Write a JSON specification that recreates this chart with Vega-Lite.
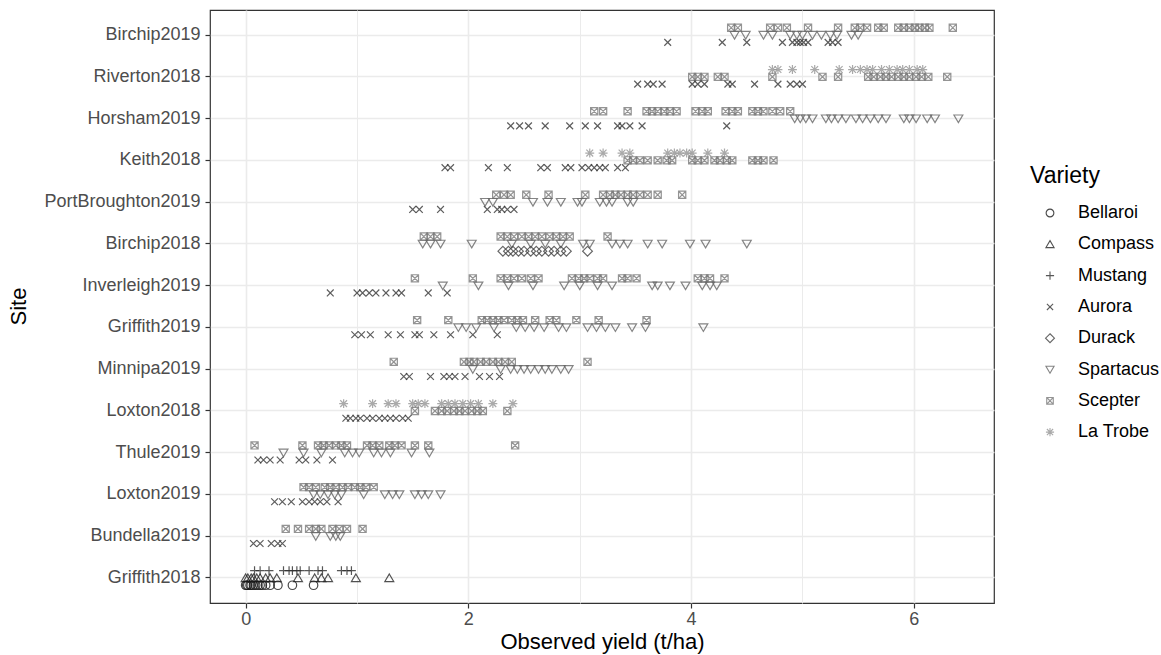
{
"$schema": "https://vega.github.io/schema/vega-lite/v6.json",
"width": 784, "height": 593,
"autosize": {"type": "none"},
"padding": {"left": 210, "top": 10, "right": 167, "bottom": 52},
"background": "white",
"config": {
  "font": "Liberation Sans",
  "view": {"stroke": "#333333", "strokeWidth": 1.2},
  "axis": {"labelFont": "Liberation Sans", "titleFont": "Liberation Sans", "labelColor": "#4D4D4D", "labelFontSize": 18, "titleFontSize": 22, "titleFontWeight": "normal", "titleColor": "#000000", "tickColor": "#333333", "tickSize": 5, "tickWidth": 1.2, "domain": false, "grid": true, "gridColor": "#EBEBEB", "gridWidth": 1.5},
  "legend": {"labelFont": "Liberation Sans", "titleFont": "Liberation Sans", "labelFontSize": 18, "titleFontSize": 23, "titleFontWeight": "normal", "labelColor": "#000000", "titleColor": "#000000"}
},
"data": {"values": [
{"Site":"Birchip2019","Variety":"Scepter","Yield":4.36},{"Site":"Birchip2019","Variety":"Scepter","Yield":4.42},{"Site":"Birchip2019","Variety":"Scepter","Yield":4.71},{"Site":"Birchip2019","Variety":"Scepter","Yield":4.78},{"Site":"Birchip2019","Variety":"Scepter","Yield":4.86},{"Site":"Birchip2019","Variety":"Scepter","Yield":5.05},{"Site":"Birchip2019","Variety":"Scepter","Yield":5.32},{"Site":"Birchip2019","Variety":"Scepter","Yield":5.47},{"Site":"Birchip2019","Variety":"Scepter","Yield":5.52},{"Site":"Birchip2019","Variety":"Scepter","Yield":5.58},{"Site":"Birchip2019","Variety":"Scepter","Yield":5.68},{"Site":"Birchip2019","Variety":"Scepter","Yield":5.73},{"Site":"Birchip2019","Variety":"Scepter","Yield":5.86},{"Site":"Birchip2019","Variety":"Scepter","Yield":5.91},{"Site":"Birchip2019","Variety":"Scepter","Yield":5.96},{"Site":"Birchip2019","Variety":"Scepter","Yield":6.01},{"Site":"Birchip2019","Variety":"Scepter","Yield":6.05},{"Site":"Birchip2019","Variety":"Scepter","Yield":6.10},{"Site":"Birchip2019","Variety":"Scepter","Yield":6.14},{"Site":"Birchip2019","Variety":"Scepter","Yield":6.35},
{"Site":"Birchip2019","Variety":"Spartacus","Yield":4.39},{"Site":"Birchip2019","Variety":"Spartacus","Yield":4.49},{"Site":"Birchip2019","Variety":"Spartacus","Yield":4.65},{"Site":"Birchip2019","Variety":"Spartacus","Yield":4.73},{"Site":"Birchip2019","Variety":"Spartacus","Yield":4.89},{"Site":"Birchip2019","Variety":"Spartacus","Yield":4.95},{"Site":"Birchip2019","Variety":"Spartacus","Yield":5.00},{"Site":"Birchip2019","Variety":"Spartacus","Yield":5.09},{"Site":"Birchip2019","Variety":"Spartacus","Yield":5.17},{"Site":"Birchip2019","Variety":"Spartacus","Yield":5.25},{"Site":"Birchip2019","Variety":"Spartacus","Yield":5.31},{"Site":"Birchip2019","Variety":"Spartacus","Yield":5.44},{"Site":"Birchip2019","Variety":"Spartacus","Yield":5.50},
{"Site":"Birchip2019","Variety":"Aurora","Yield":3.79},{"Site":"Birchip2019","Variety":"Aurora","Yield":4.28},{"Site":"Birchip2019","Variety":"Aurora","Yield":4.50},{"Site":"Birchip2019","Variety":"Aurora","Yield":4.82},{"Site":"Birchip2019","Variety":"Aurora","Yield":4.91},{"Site":"Birchip2019","Variety":"Aurora","Yield":4.95},{"Site":"Birchip2019","Variety":"Aurora","Yield":4.98},{"Site":"Birchip2019","Variety":"Aurora","Yield":5.01},{"Site":"Birchip2019","Variety":"Aurora","Yield":5.05},{"Site":"Birchip2019","Variety":"Aurora","Yield":5.23},{"Site":"Birchip2019","Variety":"Aurora","Yield":5.27},{"Site":"Birchip2019","Variety":"Aurora","Yield":5.32},
{"Site":"Riverton2018","Variety":"La Trobe","Yield":4.73},{"Site":"Riverton2018","Variety":"La Trobe","Yield":4.78},{"Site":"Riverton2018","Variety":"La Trobe","Yield":4.91},{"Site":"Riverton2018","Variety":"La Trobe","Yield":5.11},{"Site":"Riverton2018","Variety":"La Trobe","Yield":5.33},{"Site":"Riverton2018","Variety":"La Trobe","Yield":5.45},{"Site":"Riverton2018","Variety":"La Trobe","Yield":5.52},{"Site":"Riverton2018","Variety":"La Trobe","Yield":5.58},{"Site":"Riverton2018","Variety":"La Trobe","Yield":5.63},{"Site":"Riverton2018","Variety":"La Trobe","Yield":5.71},{"Site":"Riverton2018","Variety":"La Trobe","Yield":5.78},{"Site":"Riverton2018","Variety":"La Trobe","Yield":5.85},{"Site":"Riverton2018","Variety":"La Trobe","Yield":5.90},{"Site":"Riverton2018","Variety":"La Trobe","Yield":5.96},{"Site":"Riverton2018","Variety":"La Trobe","Yield":6.03},{"Site":"Riverton2018","Variety":"La Trobe","Yield":6.08},
{"Site":"Riverton2018","Variety":"Scepter","Yield":4.01},{"Site":"Riverton2018","Variety":"Scepter","Yield":4.06},{"Site":"Riverton2018","Variety":"Scepter","Yield":4.12},{"Site":"Riverton2018","Variety":"Scepter","Yield":4.24},{"Site":"Riverton2018","Variety":"Scepter","Yield":4.30},{"Site":"Riverton2018","Variety":"Scepter","Yield":4.73},{"Site":"Riverton2018","Variety":"Scepter","Yield":5.18},{"Site":"Riverton2018","Variety":"Scepter","Yield":5.32},{"Site":"Riverton2018","Variety":"Scepter","Yield":5.59},{"Site":"Riverton2018","Variety":"Scepter","Yield":5.64},{"Site":"Riverton2018","Variety":"Scepter","Yield":5.70},{"Site":"Riverton2018","Variety":"Scepter","Yield":5.75},{"Site":"Riverton2018","Variety":"Scepter","Yield":5.80},{"Site":"Riverton2018","Variety":"Scepter","Yield":5.86},{"Site":"Riverton2018","Variety":"Scepter","Yield":5.91},{"Site":"Riverton2018","Variety":"Scepter","Yield":5.96},{"Site":"Riverton2018","Variety":"Scepter","Yield":6.02},{"Site":"Riverton2018","Variety":"Scepter","Yield":6.07},{"Site":"Riverton2018","Variety":"Scepter","Yield":6.13},{"Site":"Riverton2018","Variety":"Scepter","Yield":6.30},
{"Site":"Riverton2018","Variety":"Aurora","Yield":3.52},{"Site":"Riverton2018","Variety":"Aurora","Yield":3.61},{"Site":"Riverton2018","Variety":"Aurora","Yield":3.66},{"Site":"Riverton2018","Variety":"Aurora","Yield":3.74},{"Site":"Riverton2018","Variety":"Aurora","Yield":4.01},{"Site":"Riverton2018","Variety":"Aurora","Yield":4.06},{"Site":"Riverton2018","Variety":"Aurora","Yield":4.12},{"Site":"Riverton2018","Variety":"Aurora","Yield":4.33},{"Site":"Riverton2018","Variety":"Aurora","Yield":4.37},{"Site":"Riverton2018","Variety":"Aurora","Yield":4.57},{"Site":"Riverton2018","Variety":"Aurora","Yield":4.78},{"Site":"Riverton2018","Variety":"Aurora","Yield":4.89},{"Site":"Riverton2018","Variety":"Aurora","Yield":4.95},{"Site":"Riverton2018","Variety":"Aurora","Yield":5.00},
{"Site":"Horsham2019","Variety":"Scepter","Yield":3.13},{"Site":"Horsham2019","Variety":"Scepter","Yield":3.21},{"Site":"Horsham2019","Variety":"Scepter","Yield":3.43},{"Site":"Horsham2019","Variety":"Scepter","Yield":3.60},{"Site":"Horsham2019","Variety":"Scepter","Yield":3.65},{"Site":"Horsham2019","Variety":"Scepter","Yield":3.70},{"Site":"Horsham2019","Variety":"Scepter","Yield":3.76},{"Site":"Horsham2019","Variety":"Scepter","Yield":3.81},{"Site":"Horsham2019","Variety":"Scepter","Yield":3.87},{"Site":"Horsham2019","Variety":"Scepter","Yield":4.04},{"Site":"Horsham2019","Variety":"Scepter","Yield":4.10},{"Site":"Horsham2019","Variety":"Scepter","Yield":4.15},{"Site":"Horsham2019","Variety":"Scepter","Yield":4.31},{"Site":"Horsham2019","Variety":"Scepter","Yield":4.37},{"Site":"Horsham2019","Variety":"Scepter","Yield":4.42},{"Site":"Horsham2019","Variety":"Scepter","Yield":4.55},{"Site":"Horsham2019","Variety":"Scepter","Yield":4.60},{"Site":"Horsham2019","Variety":"Scepter","Yield":4.65},{"Site":"Horsham2019","Variety":"Scepter","Yield":4.73},{"Site":"Horsham2019","Variety":"Scepter","Yield":4.80},{"Site":"Horsham2019","Variety":"Scepter","Yield":4.89},
{"Site":"Horsham2019","Variety":"Spartacus","Yield":4.93},{"Site":"Horsham2019","Variety":"Spartacus","Yield":4.98},{"Site":"Horsham2019","Variety":"Spartacus","Yield":5.03},{"Site":"Horsham2019","Variety":"Spartacus","Yield":5.09},{"Site":"Horsham2019","Variety":"Spartacus","Yield":5.21},{"Site":"Horsham2019","Variety":"Spartacus","Yield":5.26},{"Site":"Horsham2019","Variety":"Spartacus","Yield":5.32},{"Site":"Horsham2019","Variety":"Spartacus","Yield":5.39},{"Site":"Horsham2019","Variety":"Spartacus","Yield":5.48},{"Site":"Horsham2019","Variety":"Spartacus","Yield":5.54},{"Site":"Horsham2019","Variety":"Spartacus","Yield":5.61},{"Site":"Horsham2019","Variety":"Spartacus","Yield":5.68},{"Site":"Horsham2019","Variety":"Spartacus","Yield":5.75},{"Site":"Horsham2019","Variety":"Spartacus","Yield":5.91},{"Site":"Horsham2019","Variety":"Spartacus","Yield":5.96},{"Site":"Horsham2019","Variety":"Spartacus","Yield":6.02},{"Site":"Horsham2019","Variety":"Spartacus","Yield":6.12},{"Site":"Horsham2019","Variety":"Spartacus","Yield":6.19},{"Site":"Horsham2019","Variety":"Spartacus","Yield":6.40},
{"Site":"Horsham2019","Variety":"Aurora","Yield":2.38},{"Site":"Horsham2019","Variety":"Aurora","Yield":2.46},{"Site":"Horsham2019","Variety":"Aurora","Yield":2.54},{"Site":"Horsham2019","Variety":"Aurora","Yield":2.69},{"Site":"Horsham2019","Variety":"Aurora","Yield":2.91},{"Site":"Horsham2019","Variety":"Aurora","Yield":3.05},{"Site":"Horsham2019","Variety":"Aurora","Yield":3.16},{"Site":"Horsham2019","Variety":"Aurora","Yield":3.34},{"Site":"Horsham2019","Variety":"Aurora","Yield":3.38},{"Site":"Horsham2019","Variety":"Aurora","Yield":3.45},{"Site":"Horsham2019","Variety":"Aurora","Yield":3.56},{"Site":"Horsham2019","Variety":"Aurora","Yield":4.32},
{"Site":"Keith2018","Variety":"La Trobe","Yield":3.09},{"Site":"Keith2018","Variety":"La Trobe","Yield":3.21},{"Site":"Keith2018","Variety":"La Trobe","Yield":3.38},{"Site":"Keith2018","Variety":"La Trobe","Yield":3.45},{"Site":"Keith2018","Variety":"La Trobe","Yield":3.79},{"Site":"Keith2018","Variety":"La Trobe","Yield":3.85},{"Site":"Keith2018","Variety":"La Trobe","Yield":3.90},{"Site":"Keith2018","Variety":"La Trobe","Yield":3.96},{"Site":"Keith2018","Variety":"La Trobe","Yield":4.01},{"Site":"Keith2018","Variety":"La Trobe","Yield":4.15},{"Site":"Keith2018","Variety":"La Trobe","Yield":4.30},
{"Site":"Keith2018","Variety":"Scepter","Yield":3.43},{"Site":"Keith2018","Variety":"Scepter","Yield":3.48},{"Site":"Keith2018","Variety":"Scepter","Yield":3.54},{"Site":"Keith2018","Variety":"Scepter","Yield":3.61},{"Site":"Keith2018","Variety":"Scepter","Yield":3.70},{"Site":"Keith2018","Variety":"Scepter","Yield":3.78},{"Site":"Keith2018","Variety":"Scepter","Yield":3.83},{"Site":"Keith2018","Variety":"Scepter","Yield":4.01},{"Site":"Keith2018","Variety":"Scepter","Yield":4.06},{"Site":"Keith2018","Variety":"Scepter","Yield":4.12},{"Site":"Keith2018","Variety":"Scepter","Yield":4.21},{"Site":"Keith2018","Variety":"Scepter","Yield":4.26},{"Site":"Keith2018","Variety":"Scepter","Yield":4.32},{"Site":"Keith2018","Variety":"Scepter","Yield":4.37},{"Site":"Keith2018","Variety":"Scepter","Yield":4.55},{"Site":"Keith2018","Variety":"Scepter","Yield":4.60},{"Site":"Keith2018","Variety":"Scepter","Yield":4.65},{"Site":"Keith2018","Variety":"Scepter","Yield":4.74},
{"Site":"Keith2018","Variety":"Aurora","Yield":1.79},{"Site":"Keith2018","Variety":"Aurora","Yield":1.84},{"Site":"Keith2018","Variety":"Aurora","Yield":2.18},{"Site":"Keith2018","Variety":"Aurora","Yield":2.35},{"Site":"Keith2018","Variety":"Aurora","Yield":2.65},{"Site":"Keith2018","Variety":"Aurora","Yield":2.71},{"Site":"Keith2018","Variety":"Aurora","Yield":2.87},{"Site":"Keith2018","Variety":"Aurora","Yield":2.92},{"Site":"Keith2018","Variety":"Aurora","Yield":3.02},{"Site":"Keith2018","Variety":"Aurora","Yield":3.08},{"Site":"Keith2018","Variety":"Aurora","Yield":3.13},{"Site":"Keith2018","Variety":"Aurora","Yield":3.18},{"Site":"Keith2018","Variety":"Aurora","Yield":3.23},{"Site":"Keith2018","Variety":"Aurora","Yield":3.34},{"Site":"Keith2018","Variety":"Aurora","Yield":3.41},
{"Site":"PortBroughton2019","Variety":"Scepter","Yield":2.25},{"Site":"PortBroughton2019","Variety":"Scepter","Yield":2.32},{"Site":"PortBroughton2019","Variety":"Scepter","Yield":2.38},{"Site":"PortBroughton2019","Variety":"Scepter","Yield":2.52},{"Site":"PortBroughton2019","Variety":"Scepter","Yield":2.72},{"Site":"PortBroughton2019","Variety":"Scepter","Yield":3.05},{"Site":"PortBroughton2019","Variety":"Scepter","Yield":3.21},{"Site":"PortBroughton2019","Variety":"Scepter","Yield":3.27},{"Site":"PortBroughton2019","Variety":"Scepter","Yield":3.32},{"Site":"PortBroughton2019","Variety":"Scepter","Yield":3.37},{"Site":"PortBroughton2019","Variety":"Scepter","Yield":3.43},{"Site":"PortBroughton2019","Variety":"Scepter","Yield":3.48},{"Site":"PortBroughton2019","Variety":"Scepter","Yield":3.54},{"Site":"PortBroughton2019","Variety":"Scepter","Yield":3.61},{"Site":"PortBroughton2019","Variety":"Scepter","Yield":3.70},{"Site":"PortBroughton2019","Variety":"Scepter","Yield":3.92},
{"Site":"PortBroughton2019","Variety":"Spartacus","Yield":2.15},{"Site":"PortBroughton2019","Variety":"Spartacus","Yield":2.22},{"Site":"PortBroughton2019","Variety":"Spartacus","Yield":2.58},{"Site":"PortBroughton2019","Variety":"Spartacus","Yield":2.71},{"Site":"PortBroughton2019","Variety":"Spartacus","Yield":2.83},{"Site":"PortBroughton2019","Variety":"Spartacus","Yield":2.98},{"Site":"PortBroughton2019","Variety":"Spartacus","Yield":3.02},{"Site":"PortBroughton2019","Variety":"Spartacus","Yield":3.18},{"Site":"PortBroughton2019","Variety":"Spartacus","Yield":3.24},{"Site":"PortBroughton2019","Variety":"Spartacus","Yield":3.29},{"Site":"PortBroughton2019","Variety":"Spartacus","Yield":3.43},{"Site":"PortBroughton2019","Variety":"Spartacus","Yield":3.48},
{"Site":"PortBroughton2019","Variety":"Aurora","Yield":1.50},{"Site":"PortBroughton2019","Variety":"Aurora","Yield":1.56},{"Site":"PortBroughton2019","Variety":"Aurora","Yield":1.75},{"Site":"PortBroughton2019","Variety":"Aurora","Yield":2.17},{"Site":"PortBroughton2019","Variety":"Aurora","Yield":2.26},{"Site":"PortBroughton2019","Variety":"Aurora","Yield":2.30},{"Site":"PortBroughton2019","Variety":"Aurora","Yield":2.35},{"Site":"PortBroughton2019","Variety":"Aurora","Yield":2.41},
{"Site":"Birchip2018","Variety":"Scepter","Yield":1.60},{"Site":"Birchip2018","Variety":"Scepter","Yield":1.66},{"Site":"Birchip2018","Variety":"Scepter","Yield":1.72},{"Site":"Birchip2018","Variety":"Scepter","Yield":2.29},{"Site":"Birchip2018","Variety":"Scepter","Yield":2.35},{"Site":"Birchip2018","Variety":"Scepter","Yield":2.41},{"Site":"Birchip2018","Variety":"Scepter","Yield":2.48},{"Site":"Birchip2018","Variety":"Scepter","Yield":2.54},{"Site":"Birchip2018","Variety":"Scepter","Yield":2.60},{"Site":"Birchip2018","Variety":"Scepter","Yield":2.66},{"Site":"Birchip2018","Variety":"Scepter","Yield":2.73},{"Site":"Birchip2018","Variety":"Scepter","Yield":2.79},{"Site":"Birchip2018","Variety":"Scepter","Yield":2.85},{"Site":"Birchip2018","Variety":"Scepter","Yield":2.91},{"Site":"Birchip2018","Variety":"Scepter","Yield":3.25},
{"Site":"Birchip2018","Variety":"Spartacus","Yield":1.59},{"Site":"Birchip2018","Variety":"Spartacus","Yield":1.66},{"Site":"Birchip2018","Variety":"Spartacus","Yield":1.75},{"Site":"Birchip2018","Variety":"Spartacus","Yield":2.03},{"Site":"Birchip2018","Variety":"Spartacus","Yield":2.39},{"Site":"Birchip2018","Variety":"Spartacus","Yield":2.56},{"Site":"Birchip2018","Variety":"Spartacus","Yield":2.69},{"Site":"Birchip2018","Variety":"Spartacus","Yield":2.83},{"Site":"Birchip2018","Variety":"Spartacus","Yield":3.03},{"Site":"Birchip2018","Variety":"Spartacus","Yield":3.09},{"Site":"Birchip2018","Variety":"Spartacus","Yield":3.29},{"Site":"Birchip2018","Variety":"Spartacus","Yield":3.36},{"Site":"Birchip2018","Variety":"Spartacus","Yield":3.43},{"Site":"Birchip2018","Variety":"Spartacus","Yield":3.61},{"Site":"Birchip2018","Variety":"Spartacus","Yield":3.74},{"Site":"Birchip2018","Variety":"Spartacus","Yield":3.99},{"Site":"Birchip2018","Variety":"Spartacus","Yield":4.13},{"Site":"Birchip2018","Variety":"Spartacus","Yield":4.50},
{"Site":"Birchip2018","Variety":"Durack","Yield":2.31},{"Site":"Birchip2018","Variety":"Durack","Yield":2.36},{"Site":"Birchip2018","Variety":"Durack","Yield":2.40},{"Site":"Birchip2018","Variety":"Durack","Yield":2.45},{"Site":"Birchip2018","Variety":"Durack","Yield":2.50},{"Site":"Birchip2018","Variety":"Durack","Yield":2.56},{"Site":"Birchip2018","Variety":"Durack","Yield":2.61},{"Site":"Birchip2018","Variety":"Durack","Yield":2.66},{"Site":"Birchip2018","Variety":"Durack","Yield":2.72},{"Site":"Birchip2018","Variety":"Durack","Yield":2.77},{"Site":"Birchip2018","Variety":"Durack","Yield":2.83},{"Site":"Birchip2018","Variety":"Durack","Yield":2.88},{"Site":"Birchip2018","Variety":"Durack","Yield":3.07},
{"Site":"Inverleigh2019","Variety":"Scepter","Yield":1.52},{"Site":"Inverleigh2019","Variety":"Scepter","Yield":2.04},{"Site":"Inverleigh2019","Variety":"Scepter","Yield":2.29},{"Site":"Inverleigh2019","Variety":"Scepter","Yield":2.35},{"Site":"Inverleigh2019","Variety":"Scepter","Yield":2.41},{"Site":"Inverleigh2019","Variety":"Scepter","Yield":2.48},{"Site":"Inverleigh2019","Variety":"Scepter","Yield":2.56},{"Site":"Inverleigh2019","Variety":"Scepter","Yield":2.63},{"Site":"Inverleigh2019","Variety":"Scepter","Yield":2.93},{"Site":"Inverleigh2019","Variety":"Scepter","Yield":2.99},{"Site":"Inverleigh2019","Variety":"Scepter","Yield":3.04},{"Site":"Inverleigh2019","Variety":"Scepter","Yield":3.09},{"Site":"Inverleigh2019","Variety":"Scepter","Yield":3.16},{"Site":"Inverleigh2019","Variety":"Scepter","Yield":3.21},{"Site":"Inverleigh2019","Variety":"Scepter","Yield":3.38},{"Site":"Inverleigh2019","Variety":"Scepter","Yield":3.43},{"Site":"Inverleigh2019","Variety":"Scepter","Yield":3.51},{"Site":"Inverleigh2019","Variety":"Scepter","Yield":4.06},{"Site":"Inverleigh2019","Variety":"Scepter","Yield":4.12},{"Site":"Inverleigh2019","Variety":"Scepter","Yield":4.17},{"Site":"Inverleigh2019","Variety":"Scepter","Yield":4.30},
{"Site":"Inverleigh2019","Variety":"Spartacus","Yield":1.77},{"Site":"Inverleigh2019","Variety":"Spartacus","Yield":2.09},{"Site":"Inverleigh2019","Variety":"Spartacus","Yield":2.36},{"Site":"Inverleigh2019","Variety":"Spartacus","Yield":2.58},{"Site":"Inverleigh2019","Variety":"Spartacus","Yield":2.86},{"Site":"Inverleigh2019","Variety":"Spartacus","Yield":3.00},{"Site":"Inverleigh2019","Variety":"Spartacus","Yield":3.16},{"Site":"Inverleigh2019","Variety":"Spartacus","Yield":3.29},{"Site":"Inverleigh2019","Variety":"Spartacus","Yield":3.65},{"Site":"Inverleigh2019","Variety":"Spartacus","Yield":3.70},{"Site":"Inverleigh2019","Variety":"Spartacus","Yield":3.81},{"Site":"Inverleigh2019","Variety":"Spartacus","Yield":3.95},{"Site":"Inverleigh2019","Variety":"Spartacus","Yield":4.10},{"Site":"Inverleigh2019","Variety":"Spartacus","Yield":4.17},{"Site":"Inverleigh2019","Variety":"Spartacus","Yield":4.23},
{"Site":"Inverleigh2019","Variety":"Aurora","Yield":0.76},{"Site":"Inverleigh2019","Variety":"Aurora","Yield":1.00},{"Site":"Inverleigh2019","Variety":"Aurora","Yield":1.05},{"Site":"Inverleigh2019","Variety":"Aurora","Yield":1.11},{"Site":"Inverleigh2019","Variety":"Aurora","Yield":1.17},{"Site":"Inverleigh2019","Variety":"Aurora","Yield":1.26},{"Site":"Inverleigh2019","Variety":"Aurora","Yield":1.35},{"Site":"Inverleigh2019","Variety":"Aurora","Yield":1.40},{"Site":"Inverleigh2019","Variety":"Aurora","Yield":1.64},{"Site":"Inverleigh2019","Variety":"Aurora","Yield":1.81},
{"Site":"Griffith2019","Variety":"Scepter","Yield":1.54},{"Site":"Griffith2019","Variety":"Scepter","Yield":1.82},{"Site":"Griffith2019","Variety":"Scepter","Yield":2.12},{"Site":"Griffith2019","Variety":"Scepter","Yield":2.17},{"Site":"Griffith2019","Variety":"Scepter","Yield":2.22},{"Site":"Griffith2019","Variety":"Scepter","Yield":2.27},{"Site":"Griffith2019","Variety":"Scepter","Yield":2.32},{"Site":"Griffith2019","Variety":"Scepter","Yield":2.39},{"Site":"Griffith2019","Variety":"Scepter","Yield":2.44},{"Site":"Griffith2019","Variety":"Scepter","Yield":2.49},{"Site":"Griffith2019","Variety":"Scepter","Yield":2.60},{"Site":"Griffith2019","Variety":"Scepter","Yield":2.73},{"Site":"Griffith2019","Variety":"Scepter","Yield":2.79},{"Site":"Griffith2019","Variety":"Scepter","Yield":2.97},{"Site":"Griffith2019","Variety":"Scepter","Yield":3.17},{"Site":"Griffith2019","Variety":"Scepter","Yield":3.60},
{"Site":"Griffith2019","Variety":"Spartacus","Yield":1.91},{"Site":"Griffith2019","Variety":"Spartacus","Yield":1.98},{"Site":"Griffith2019","Variety":"Spartacus","Yield":2.07},{"Site":"Griffith2019","Variety":"Spartacus","Yield":2.23},{"Site":"Griffith2019","Variety":"Spartacus","Yield":2.43},{"Site":"Griffith2019","Variety":"Spartacus","Yield":2.51},{"Site":"Griffith2019","Variety":"Spartacus","Yield":2.59},{"Site":"Griffith2019","Variety":"Spartacus","Yield":2.68},{"Site":"Griffith2019","Variety":"Spartacus","Yield":2.81},{"Site":"Griffith2019","Variety":"Spartacus","Yield":2.88},{"Site":"Griffith2019","Variety":"Spartacus","Yield":3.07},{"Site":"Griffith2019","Variety":"Spartacus","Yield":3.15},{"Site":"Griffith2019","Variety":"Spartacus","Yield":3.23},{"Site":"Griffith2019","Variety":"Spartacus","Yield":3.32},{"Site":"Griffith2019","Variety":"Spartacus","Yield":3.47},{"Site":"Griffith2019","Variety":"Spartacus","Yield":3.59},{"Site":"Griffith2019","Variety":"Spartacus","Yield":4.11},
{"Site":"Griffith2019","Variety":"Aurora","Yield":0.98},{"Site":"Griffith2019","Variety":"Aurora","Yield":1.04},{"Site":"Griffith2019","Variety":"Aurora","Yield":1.12},{"Site":"Griffith2019","Variety":"Aurora","Yield":1.28},{"Site":"Griffith2019","Variety":"Aurora","Yield":1.39},{"Site":"Griffith2019","Variety":"Aurora","Yield":1.52},{"Site":"Griffith2019","Variety":"Aurora","Yield":1.56},{"Site":"Griffith2019","Variety":"Aurora","Yield":1.69},{"Site":"Griffith2019","Variety":"Aurora","Yield":1.84},{"Site":"Griffith2019","Variety":"Aurora","Yield":2.04},{"Site":"Griffith2019","Variety":"Aurora","Yield":2.26},
{"Site":"Minnipa2019","Variety":"Scepter","Yield":1.33},{"Site":"Minnipa2019","Variety":"Scepter","Yield":1.96},{"Site":"Minnipa2019","Variety":"Scepter","Yield":2.01},{"Site":"Minnipa2019","Variety":"Scepter","Yield":2.05},{"Site":"Minnipa2019","Variety":"Scepter","Yield":2.11},{"Site":"Minnipa2019","Variety":"Scepter","Yield":2.16},{"Site":"Minnipa2019","Variety":"Scepter","Yield":2.22},{"Site":"Minnipa2019","Variety":"Scepter","Yield":2.27},{"Site":"Minnipa2019","Variety":"Scepter","Yield":2.33},{"Site":"Minnipa2019","Variety":"Scepter","Yield":2.39},{"Site":"Minnipa2019","Variety":"Scepter","Yield":3.07},
{"Site":"Minnipa2019","Variety":"Spartacus","Yield":2.04},{"Site":"Minnipa2019","Variety":"Spartacus","Yield":2.29},{"Site":"Minnipa2019","Variety":"Spartacus","Yield":2.38},{"Site":"Minnipa2019","Variety":"Spartacus","Yield":2.44},{"Site":"Minnipa2019","Variety":"Spartacus","Yield":2.50},{"Site":"Minnipa2019","Variety":"Spartacus","Yield":2.56},{"Site":"Minnipa2019","Variety":"Spartacus","Yield":2.63},{"Site":"Minnipa2019","Variety":"Spartacus","Yield":2.69},{"Site":"Minnipa2019","Variety":"Spartacus","Yield":2.75},{"Site":"Minnipa2019","Variety":"Spartacus","Yield":2.83},{"Site":"Minnipa2019","Variety":"Spartacus","Yield":2.90},
{"Site":"Minnipa2019","Variety":"Aurora","Yield":1.42},{"Site":"Minnipa2019","Variety":"Aurora","Yield":1.47},{"Site":"Minnipa2019","Variety":"Aurora","Yield":1.66},{"Site":"Minnipa2019","Variety":"Aurora","Yield":1.78},{"Site":"Minnipa2019","Variety":"Aurora","Yield":1.83},{"Site":"Minnipa2019","Variety":"Aurora","Yield":1.88},{"Site":"Minnipa2019","Variety":"Aurora","Yield":1.97},{"Site":"Minnipa2019","Variety":"Aurora","Yield":2.10},{"Site":"Minnipa2019","Variety":"Aurora","Yield":2.19},{"Site":"Minnipa2019","Variety":"Aurora","Yield":2.28},
{"Site":"Loxton2018","Variety":"La Trobe","Yield":0.88},{"Site":"Loxton2018","Variety":"La Trobe","Yield":1.14},{"Site":"Loxton2018","Variety":"La Trobe","Yield":1.28},{"Site":"Loxton2018","Variety":"La Trobe","Yield":1.35},{"Site":"Loxton2018","Variety":"La Trobe","Yield":1.50},{"Site":"Loxton2018","Variety":"La Trobe","Yield":1.55},{"Site":"Loxton2018","Variety":"La Trobe","Yield":1.61},{"Site":"Loxton2018","Variety":"La Trobe","Yield":1.76},{"Site":"Loxton2018","Variety":"La Trobe","Yield":1.82},{"Site":"Loxton2018","Variety":"La Trobe","Yield":1.88},{"Site":"Loxton2018","Variety":"La Trobe","Yield":1.95},{"Site":"Loxton2018","Variety":"La Trobe","Yield":2.02},{"Site":"Loxton2018","Variety":"La Trobe","Yield":2.09},{"Site":"Loxton2018","Variety":"La Trobe","Yield":2.22},{"Site":"Loxton2018","Variety":"La Trobe","Yield":2.40},
{"Site":"Loxton2018","Variety":"Scepter","Yield":1.52},{"Site":"Loxton2018","Variety":"Scepter","Yield":1.70},{"Site":"Loxton2018","Variety":"Scepter","Yield":1.76},{"Site":"Loxton2018","Variety":"Scepter","Yield":1.81},{"Site":"Loxton2018","Variety":"Scepter","Yield":1.87},{"Site":"Loxton2018","Variety":"Scepter","Yield":1.92},{"Site":"Loxton2018","Variety":"Scepter","Yield":1.97},{"Site":"Loxton2018","Variety":"Scepter","Yield":2.03},{"Site":"Loxton2018","Variety":"Scepter","Yield":2.08},{"Site":"Loxton2018","Variety":"Scepter","Yield":2.13},{"Site":"Loxton2018","Variety":"Scepter","Yield":2.35},
{"Site":"Loxton2018","Variety":"Aurora","Yield":0.90},{"Site":"Loxton2018","Variety":"Aurora","Yield":0.94},{"Site":"Loxton2018","Variety":"Aurora","Yield":0.99},{"Site":"Loxton2018","Variety":"Aurora","Yield":1.03},{"Site":"Loxton2018","Variety":"Aurora","Yield":1.09},{"Site":"Loxton2018","Variety":"Aurora","Yield":1.14},{"Site":"Loxton2018","Variety":"Aurora","Yield":1.20},{"Site":"Loxton2018","Variety":"Aurora","Yield":1.25},{"Site":"Loxton2018","Variety":"Aurora","Yield":1.30},{"Site":"Loxton2018","Variety":"Aurora","Yield":1.35},{"Site":"Loxton2018","Variety":"Aurora","Yield":1.41},{"Site":"Loxton2018","Variety":"Aurora","Yield":1.46},
{"Site":"Thule2019","Variety":"Scepter","Yield":0.08},{"Site":"Thule2019","Variety":"Scepter","Yield":0.51},{"Site":"Thule2019","Variety":"Scepter","Yield":0.65},{"Site":"Thule2019","Variety":"Scepter","Yield":0.70},{"Site":"Thule2019","Variety":"Scepter","Yield":0.75},{"Site":"Thule2019","Variety":"Scepter","Yield":0.81},{"Site":"Thule2019","Variety":"Scepter","Yield":0.86},{"Site":"Thule2019","Variety":"Scepter","Yield":0.91},{"Site":"Thule2019","Variety":"Scepter","Yield":1.09},{"Site":"Thule2019","Variety":"Scepter","Yield":1.14},{"Site":"Thule2019","Variety":"Scepter","Yield":1.20},{"Site":"Thule2019","Variety":"Scepter","Yield":1.29},{"Site":"Thule2019","Variety":"Scepter","Yield":1.34},{"Site":"Thule2019","Variety":"Scepter","Yield":1.40},{"Site":"Thule2019","Variety":"Scepter","Yield":1.52},{"Site":"Thule2019","Variety":"Scepter","Yield":1.64},{"Site":"Thule2019","Variety":"Scepter","Yield":2.42},
{"Site":"Thule2019","Variety":"Spartacus","Yield":0.34},{"Site":"Thule2019","Variety":"Spartacus","Yield":0.52},{"Site":"Thule2019","Variety":"Spartacus","Yield":0.68},{"Site":"Thule2019","Variety":"Spartacus","Yield":0.89},{"Site":"Thule2019","Variety":"Spartacus","Yield":0.96},{"Site":"Thule2019","Variety":"Spartacus","Yield":1.02},{"Site":"Thule2019","Variety":"Spartacus","Yield":1.15},{"Site":"Thule2019","Variety":"Spartacus","Yield":1.22},{"Site":"Thule2019","Variety":"Spartacus","Yield":1.30},{"Site":"Thule2019","Variety":"Spartacus","Yield":1.49},{"Site":"Thule2019","Variety":"Spartacus","Yield":1.65},
{"Site":"Thule2019","Variety":"Aurora","Yield":0.11},{"Site":"Thule2019","Variety":"Aurora","Yield":0.16},{"Site":"Thule2019","Variety":"Aurora","Yield":0.22},{"Site":"Thule2019","Variety":"Aurora","Yield":0.31},{"Site":"Thule2019","Variety":"Aurora","Yield":0.48},{"Site":"Thule2019","Variety":"Aurora","Yield":0.54},{"Site":"Thule2019","Variety":"Aurora","Yield":0.64},{"Site":"Thule2019","Variety":"Aurora","Yield":0.78},
{"Site":"Loxton2019","Variety":"Scepter","Yield":0.52},{"Site":"Loxton2019","Variety":"Scepter","Yield":0.57},{"Site":"Loxton2019","Variety":"Scepter","Yield":0.63},{"Site":"Loxton2019","Variety":"Scepter","Yield":0.71},{"Site":"Loxton2019","Variety":"Scepter","Yield":0.76},{"Site":"Loxton2019","Variety":"Scepter","Yield":0.81},{"Site":"Loxton2019","Variety":"Scepter","Yield":0.87},{"Site":"Loxton2019","Variety":"Scepter","Yield":0.92},{"Site":"Loxton2019","Variety":"Scepter","Yield":0.98},{"Site":"Loxton2019","Variety":"Scepter","Yield":1.03},{"Site":"Loxton2019","Variety":"Scepter","Yield":1.08},{"Site":"Loxton2019","Variety":"Scepter","Yield":1.15},
{"Site":"Loxton2019","Variety":"Spartacus","Yield":0.61},{"Site":"Loxton2019","Variety":"Spartacus","Yield":0.67},{"Site":"Loxton2019","Variety":"Spartacus","Yield":0.74},{"Site":"Loxton2019","Variety":"Spartacus","Yield":0.80},{"Site":"Loxton2019","Variety":"Spartacus","Yield":0.86},{"Site":"Loxton2019","Variety":"Spartacus","Yield":1.06},{"Site":"Loxton2019","Variety":"Spartacus","Yield":1.25},{"Site":"Loxton2019","Variety":"Spartacus","Yield":1.32},{"Site":"Loxton2019","Variety":"Spartacus","Yield":1.38},{"Site":"Loxton2019","Variety":"Spartacus","Yield":1.52},{"Site":"Loxton2019","Variety":"Spartacus","Yield":1.58},{"Site":"Loxton2019","Variety":"Spartacus","Yield":1.64},{"Site":"Loxton2019","Variety":"Spartacus","Yield":1.75},
{"Site":"Loxton2019","Variety":"Aurora","Yield":0.26},{"Site":"Loxton2019","Variety":"Aurora","Yield":0.33},{"Site":"Loxton2019","Variety":"Aurora","Yield":0.41},{"Site":"Loxton2019","Variety":"Aurora","Yield":0.51},{"Site":"Loxton2019","Variety":"Aurora","Yield":0.57},{"Site":"Loxton2019","Variety":"Aurora","Yield":0.62},{"Site":"Loxton2019","Variety":"Aurora","Yield":0.67},{"Site":"Loxton2019","Variety":"Aurora","Yield":0.73},{"Site":"Loxton2019","Variety":"Aurora","Yield":0.83},
{"Site":"Bundella2019","Variety":"Scepter","Yield":0.36},{"Site":"Bundella2019","Variety":"Scepter","Yield":0.47},{"Site":"Bundella2019","Variety":"Scepter","Yield":0.57},{"Site":"Bundella2019","Variety":"Scepter","Yield":0.63},{"Site":"Bundella2019","Variety":"Scepter","Yield":0.68},{"Site":"Bundella2019","Variety":"Scepter","Yield":0.78},{"Site":"Bundella2019","Variety":"Scepter","Yield":0.84},{"Site":"Bundella2019","Variety":"Scepter","Yield":0.91},{"Site":"Bundella2019","Variety":"Scepter","Yield":1.05},
{"Site":"Bundella2019","Variety":"Spartacus","Yield":0.63},{"Site":"Bundella2019","Variety":"Spartacus","Yield":0.76},{"Site":"Bundella2019","Variety":"Spartacus","Yield":0.81},{"Site":"Bundella2019","Variety":"Spartacus","Yield":0.85},
{"Site":"Bundella2019","Variety":"Aurora","Yield":0.07},{"Site":"Bundella2019","Variety":"Aurora","Yield":0.13},{"Site":"Bundella2019","Variety":"Aurora","Yield":0.23},{"Site":"Bundella2019","Variety":"Aurora","Yield":0.29},{"Site":"Bundella2019","Variety":"Aurora","Yield":0.33},
{"Site":"Griffith2018","Variety":"Mustang","Yield":0.08},{"Site":"Griffith2018","Variety":"Mustang","Yield":0.13},{"Site":"Griffith2018","Variety":"Mustang","Yield":0.21},{"Site":"Griffith2018","Variety":"Mustang","Yield":0.34},{"Site":"Griffith2018","Variety":"Mustang","Yield":0.39},{"Site":"Griffith2018","Variety":"Mustang","Yield":0.42},{"Site":"Griffith2018","Variety":"Mustang","Yield":0.46},{"Site":"Griffith2018","Variety":"Mustang","Yield":0.49},{"Site":"Griffith2018","Variety":"Mustang","Yield":0.57},{"Site":"Griffith2018","Variety":"Mustang","Yield":0.65},{"Site":"Griffith2018","Variety":"Mustang","Yield":0.69},{"Site":"Griffith2018","Variety":"Mustang","Yield":0.86},{"Site":"Griffith2018","Variety":"Mustang","Yield":0.91},{"Site":"Griffith2018","Variety":"Mustang","Yield":0.95},
{"Site":"Griffith2018","Variety":"Compass","Yield":0.00},{"Site":"Griffith2018","Variety":"Compass","Yield":0.02},{"Site":"Griffith2018","Variety":"Compass","Yield":0.05},{"Site":"Griffith2018","Variety":"Compass","Yield":0.07},{"Site":"Griffith2018","Variety":"Compass","Yield":0.10},{"Site":"Griffith2018","Variety":"Compass","Yield":0.13},{"Site":"Griffith2018","Variety":"Compass","Yield":0.18},{"Site":"Griffith2018","Variety":"Compass","Yield":0.22},{"Site":"Griffith2018","Variety":"Compass","Yield":0.28},{"Site":"Griffith2018","Variety":"Compass","Yield":0.47},{"Site":"Griffith2018","Variety":"Compass","Yield":0.62},{"Site":"Griffith2018","Variety":"Compass","Yield":0.68},{"Site":"Griffith2018","Variety":"Compass","Yield":0.74},{"Site":"Griffith2018","Variety":"Compass","Yield":0.99},{"Site":"Griffith2018","Variety":"Compass","Yield":1.29},
{"Site":"Griffith2018","Variety":"Bellaroi","Yield":0.00},{"Site":"Griffith2018","Variety":"Bellaroi","Yield":0.01},{"Site":"Griffith2018","Variety":"Bellaroi","Yield":0.02},{"Site":"Griffith2018","Variety":"Bellaroi","Yield":0.04},{"Site":"Griffith2018","Variety":"Bellaroi","Yield":0.05},{"Site":"Griffith2018","Variety":"Bellaroi","Yield":0.07},{"Site":"Griffith2018","Variety":"Bellaroi","Yield":0.09},{"Site":"Griffith2018","Variety":"Bellaroi","Yield":0.11},{"Site":"Griffith2018","Variety":"Bellaroi","Yield":0.13},{"Site":"Griffith2018","Variety":"Bellaroi","Yield":0.15},{"Site":"Griffith2018","Variety":"Bellaroi","Yield":0.18},{"Site":"Griffith2018","Variety":"Bellaroi","Yield":0.22},{"Site":"Griffith2018","Variety":"Bellaroi","Yield":0.29},{"Site":"Griffith2018","Variety":"Bellaroi","Yield":0.42},{"Site":"Griffith2018","Variety":"Bellaroi","Yield":0.61}
]},
"transform": [
  {"calculate": "indexof(['Bellaroi','Compass','Mustang','Aurora','Durack','Spartacus','Scepter','La Trobe'], datum.Variety)", "as": "vorder"},
  {"window": [{"op": "dense_rank", "as": "slot"}], "groupby": ["Site"], "sort": [{"field": "vorder", "order": "ascending"}]}
],
"mark": {"type": "point", "filled": false, "strokeWidth": 1.2, "opacity": 0.8, "size": 72},
"encoding": {
  "x": {"field": "Yield", "type": "quantitative",
    "scale": {"domain": [-0.32, 6.72], "nice": false, "zero": false},
    "axis": {"title": "Observed yield (t/ha)", "values": [0,1,2,3,4,5,6], "labelExpr": "datum.value % 2 === 0 ? datum.label : ''",
      "tickOpacity": {"condition": {"test": "datum.value % 2 !== 0", "value": 0}, "value": 1},
      "gridWidth": {"condition": {"test": "datum.value % 2 !== 0", "value": 1}, "value": 1.6},
      "labelPadding": 2, "titleY": 38, "titleBaseline": "middle"}},
  "y": {"field": "Site", "type": "nominal",
    "sort": ["Birchip2019","Riverton2018","Horsham2019","Keith2018","PortBroughton2019","Birchip2018","Inverleigh2019","Griffith2019","Minnipa2019","Loxton2018","Thule2019","Loxton2019","Bundella2019","Griffith2018"],
    "scale": {"paddingInner": 0, "paddingOuter": 0.1},
    "axis": {"title": "Site", "grid": true, "bandPosition": 0.5, "labelPadding": 5, "titleX": -192, "titleY": 296, "titleAngle": -90, "titleBaseline": "middle", "titleAlign": "center"}},
  "yOffset": {"field": "slot", "type": "ordinal", "sort": "descending", "scale": {"range": [13.6, 28.2], "paddingInner": 0, "paddingOuter": 0}},
  "shape": {"field": "Variety", "type": "nominal",
    "scale": {"domain": ["Bellaroi","Compass","Mustang","Aurora","Durack","Spartacus","Scepter","La Trobe"],
      "range": ["M1,0A1,1 0 1,1 -1,0A1,1 0 1,1 1,0Z", "M0,-0.95L1.05,0.85L-1.05,0.85Z", "M-1.05,0H1.05M0,-1.05V1.05", "M-0.8,-0.8L0.8,0.8M-0.8,0.8L0.8,-0.8", "M0,-1.15L1.15,0L0,1.15L-1.15,0Z", "M0,0.95L1.05,-0.85L-1.05,-0.85Z", "M-0.85,-0.85H0.85V0.85H-0.85ZM-0.85,-0.85L0.85,0.85M-0.85,0.85L0.85,-0.85", "M-1.05,0H1.05M0,-1.05V1.05M-0.8,-0.8L0.8,0.8M-0.8,0.8L0.8,-0.8"]},
    "legend": {"title": "Variety", "orient": "none", "legendX": 820, "legendY": 155, "padding": 0, "rowPadding": 13.3, "titlePadding": 16, "labelOffset": 19, "symbolOffset": 11, "symbolSize": 60, "symbolStrokeWidth": 1.1}},
  "color": {"field": "Variety", "type": "nominal",
    "scale": {"domain": ["Bellaroi","Compass","Mustang","Aurora","Durack","Spartacus","Scepter","La Trobe"],
      "range": ["#1a1a1a","#262626","#2e2e2e","#363636","#404040","#666666","#7a7a7a","#959595"]},
    "legend": {"title": "Variety", "orient": "none", "legendX": 820, "legendY": 155, "padding": 0, "rowPadding": 13.3, "titlePadding": 16, "labelOffset": 19, "symbolOffset": 11, "symbolSize": 60, "symbolStrokeWidth": 1.1}}
}
}
